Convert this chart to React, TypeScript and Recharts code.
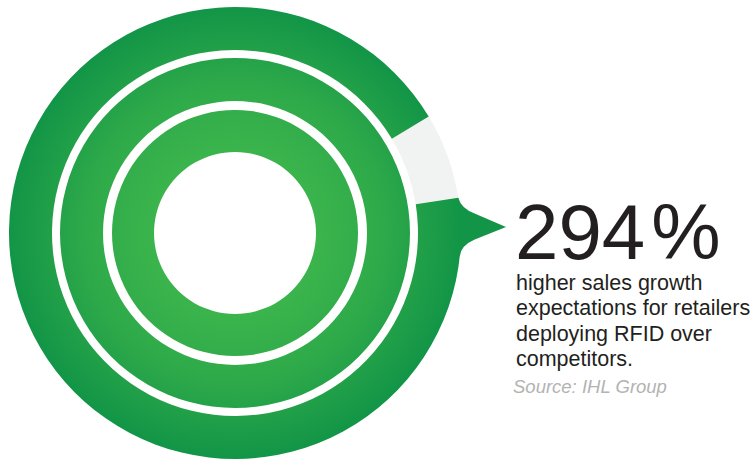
import React from 'react';
import { PieChart, Pie, Cell } from 'recharts';

// ring data (degrees of a full turn)
const outerRing = [
  { name: 'Competitors', value: 22 },
  { name: 'RFID retailers', value: 338 },
];
const outerColors = ['#f1f2f2', 'url(#ringGreen)'];
const middleRing = [{ name: 'Middle', value: 360 }];
const innerRing = [{ name: 'Inner', value: 360 }];

const headlineNumber = '294';
const headlineUnit = '%';
const bodyLines = [
  'higher sales growth',
  'expectations for retailers',
  'deploying RFID over',
  'competitors.',
];
const sourceLine = 'Source: IHL Group';

const CX = 235;
const CY = 233;
const R = 226;

const App: React.FC = () => {
  // speech-bubble tail on the right side of the outer ring
  const pt = (deg: number, r: number) => {
    const a = (deg * Math.PI) / 180;
    return [CX + r * Math.cos(a), CY - r * Math.sin(a)];
  };
  const [sx, sy] = pt(9, R);
  const [ex, ey] = pt(-6, R);
  const [ix, iy] = pt(2, R - 20);
  const tipX = CX + 271;
  const tipY = CY - 6;
  const tail = `M${sx},${sy} Q${sx + 3},${sy + 11} ${sx + 17},${sy + 16} L${tipX},${tipY} L${ex + 15},${ey - 17} Q${ex + 1},${ey - 11} ${ex},${ey} L${ix},${iy} Z`;

  return (
    <div style={{ width: 753, height: 460, fontFamily: '"Liberation Sans", Arial, sans-serif' }}>
      <style>{'body{margin:0}'}</style>
      <PieChart width={753} height={460} margin={{ top: 0, right: 0, bottom: 0, left: 0 }}>
        <defs>
          <radialGradient id="ringGreen" gradientUnits="userSpaceOnUse" cx={CX} cy={CY} r={R}>
            <stop offset="0.3" stopColor="#3db64c" />
            <stop offset="0.65" stopColor="#2faa4a" />
            <stop offset="1" stopColor="#129547" />
          </radialGradient>
        </defs>
        <path d={tail} fill="url(#ringGreen)" />
        <Pie
          data={outerRing}
          dataKey="value"
          cx={CX}
          cy={CY}
          innerRadius={183}
          outerRadius={R}
          startAngle={9}
          endAngle={369}
          stroke="none"
          isAnimationActive={false}
        >
          {outerRing.map((d, i) => (
            <Cell key={d.name} fill={outerColors[i]} />
          ))}
        </Pie>
        <Pie
          data={middleRing}
          dataKey="value"
          cx={CX}
          cy={CY}
          innerRadius={132}
          outerRadius={175}
          startAngle={90}
          endAngle={450}
          fill="url(#ringGreen)"
          stroke="none"
          isAnimationActive={false}
        />
        <Pie
          data={innerRing}
          dataKey="value"
          cx={CX}
          cy={CY}
          innerRadius={81}
          outerRadius={123}
          startAngle={90}
          endAngle={450}
          fill="url(#ringGreen)"
          stroke="none"
          isAnimationActive={false}
        />
        <text x={515} y={259} fontSize={78} fill="#231f20" fontFamily='"Liberation Sans", Arial, sans-serif'>
          {headlineNumber}
          <tspan dx={6}>{headlineUnit}</tspan>
        </text>
        {bodyLines.map((line, i) => (
          <text
            key={line}
            x={516}
            y={290 + i * 25.3}
            fontSize={21.5}
            fill="#231f20"
            fontFamily='"Liberation Sans", Arial, sans-serif'
          >
            {line}
          </text>
        ))}
        <text
          x={513}
          y={393}
          fontSize={18.5}
          fontStyle="italic"
          fill="#b3b3b3"
          fontFamily='"Liberation Sans", Arial, sans-serif'
        >
          {sourceLine}
        </text>
      </PieChart>
    </div>
  );
};

export default App;
